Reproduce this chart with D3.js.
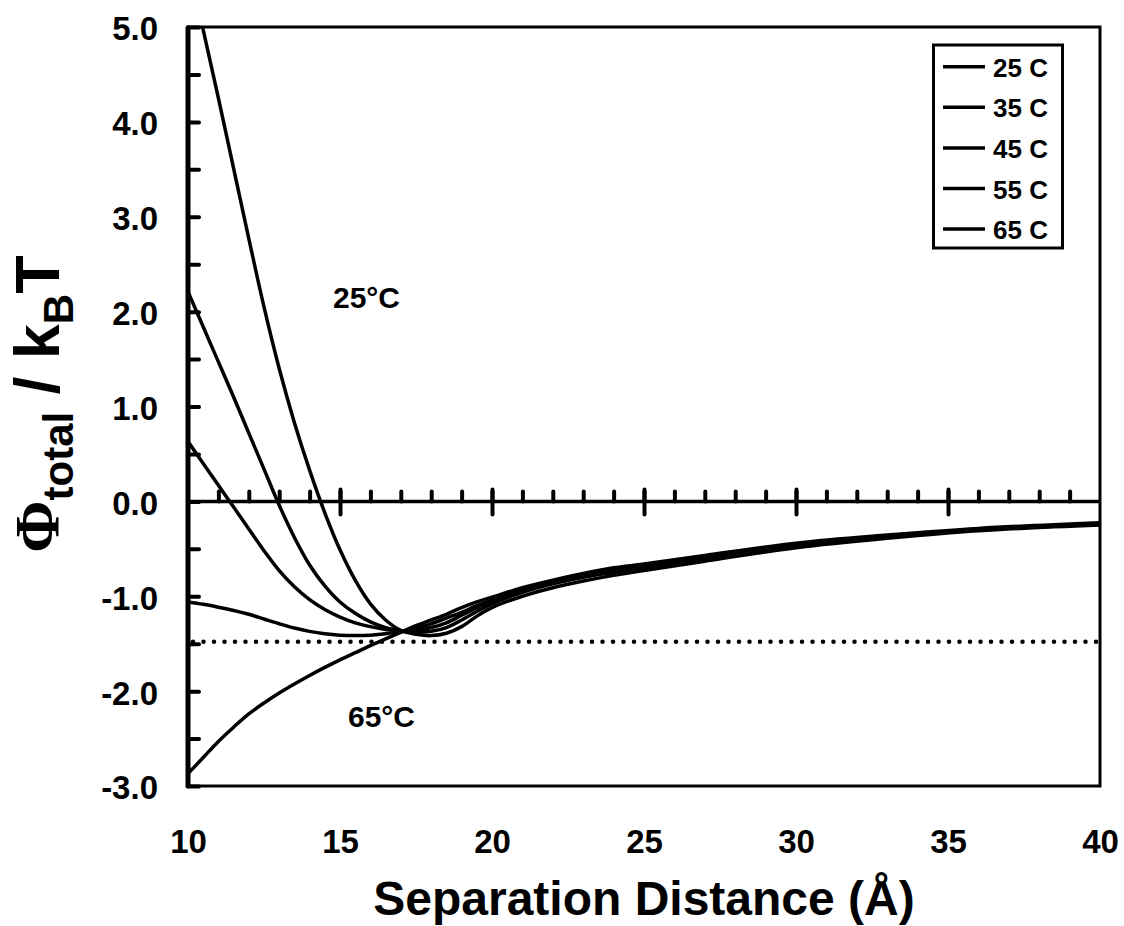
<!DOCTYPE html>
<html>
<head>
<meta charset="utf-8">
<script src="https://cdn.jsdelivr.net/npm/d3@7"></script>
<style>
  body { margin: 0; background: #fff; }
  text { font-family: "Liberation Sans", Arial, sans-serif; font-weight: bold; fill: #000; }
</style>
</head>
<body>
<div id="chart"></div>
<script>
// Separation distance (Angstrom) at which every curve is sampled
var distance = [10, 10.5, 11, 11.5, 12, 12.5, 13, 13.5, 14, 14.5, 15, 15.5, 16, 16.5, 17,
                17.5, 18, 18.5, 19, 19.5, 20, 21, 22, 23, 24, 25, 27, 30, 33, 36, 40];

// Phi_total / kBT for each temperature
var t25 = [5.68, 4.97, 4.25, 3.51, 2.77, 2.05, 1.40, 0.83, 0.33, -0.12, -0.51, -0.83, -1.08, -1.25, -1.36,
           -1.40, -1.415, -1.39, -1.32, -1.21, -1.12, -1.00, -0.91, -0.84, -0.78, -0.73, -0.63, -0.49, -0.39, -0.31, -0.25];
var t35 = [2.21, 1.84, 1.47, 1.10, 0.72, 0.34, -0.04, -0.38, -0.67, -0.89, -1.06, -1.18, -1.27, -1.33, -1.365,
           -1.38, -1.37, -1.33, -1.25, -1.16, -1.08, -0.96, -0.87, -0.80, -0.75, -0.71, -0.61, -0.48, -0.38, -0.30, -0.245];
var t45 = [0.63, 0.40, 0.17, -0.06, -0.29, -0.52, -0.73, -0.90, -1.035, -1.14, -1.22, -1.28, -1.32, -1.35, -1.37,
           -1.36, -1.33, -1.28, -1.20, -1.12, -1.05, -0.94, -0.85, -0.79, -0.73, -0.69, -0.60, -0.47, -0.37, -0.30, -0.24];
var t55 = [-1.06, -1.085, -1.115, -1.15, -1.19, -1.24, -1.29, -1.335, -1.37, -1.395, -1.41, -1.415, -1.41, -1.395, -1.37,
           -1.34, -1.29, -1.23, -1.17, -1.10, -1.04, -0.93, -0.85, -0.78, -0.72, -0.68, -0.59, -0.46, -0.365, -0.295, -0.235];
var t65 = [-2.87, -2.70, -2.53, -2.38, -2.24, -2.125, -2.02, -1.925, -1.835, -1.75, -1.67, -1.595, -1.52, -1.45, -1.38,
           -1.31, -1.25, -1.19, -1.12, -1.06, -1.01, -0.91, -0.83, -0.76, -0.70, -0.66, -0.57, -0.44, -0.355, -0.285, -0.225];

var seriesNames = ["25 C", "35 C", "45 C", "55 C", "65 C"];
var seriesValues = [t25, t35, t45, t55, t65];

// dotted reference level
var refLevel = -1.48;

var xTicks = [10, 15, 20, 25, 30, 35, 40];
var yTicks = [-3, -2, -1, 0, 1, 2, 3, 4, 5];

var w = 1124;
var h = 926;

var x = d3.scaleLinear().domain([10, 40]).range([188, 1100]);
var y = d3.scaleLinear().domain([-3, 5]).range([786, 27]);

var svg = d3.select("#chart")
    .append("svg")
    .attr("width", w)
    .attr("height", h);

svg.append("clipPath")
    .attr("id", "plotclip")
    .append("rect")
    .attr("x", x(10))
    .attr("y", y(5))
    .attr("width", x(40) - x(10))
    .attr("height", y(-3) - y(5));

// plot area border
svg.append("rect")
    .attr("x", x(10))
    .attr("y", y(5))
    .attr("width", x(40) - x(10))
    .attr("height", y(-3) - y(5))
    .attr("fill", "none")
    .attr("stroke", "#000")
    .attr("stroke-width", 3);

// y ticks point into the plot (major every 1, minor every 0.5)
var yTickG = svg.append("g")
    .attr("transform", "translate(" + x(10) + ",0)")
    .call(d3.axisRight(y).tickValues(d3.range(-3, 5.01, 0.5)).tickSize(11).tickFormat(""));
yTickG.select(".domain").remove();

// y tick labels
var yLab = svg.append("g")
    .attr("transform", "translate(" + x(10) + ",0)")
    .call(d3.axisLeft(y).tickValues(yTicks).tickSize(0).tickPadding(30)
        .tickFormat(function(d) { return d.toFixed(1); }));
yLab.select(".domain").remove();
yLab.selectAll("text")
    .attr("dy", "0.39em")
    .style("font-size", "33px");

// left axis line
svg.append("line")
    .attr("x1", x(10)).attr("x2", x(10))
    .attr("y1", y(5)).attr("y2", y(-3) + 1.5)
    .attr("stroke", "#000")
    .attr("stroke-width", 5);

// zero line with minor ticks above and major ticks crossing
var zeroMinor = svg.append("g")
    .attr("transform", "translate(0," + y(0) + ")")
    .call(d3.axisTop(x).tickValues(d3.range(11, 40, 1)).tickSize(10).tickFormat(""));
zeroMinor.select(".domain").remove();
var zeroMajUp = svg.append("g")
    .attr("transform", "translate(0," + y(0) + ")")
    .call(d3.axisTop(x).tickValues([15, 20, 25, 30, 35]).tickSize(12).tickFormat(""));
zeroMajUp.select(".domain").remove();
var zeroMajDown = svg.append("g")
    .attr("transform", "translate(0," + y(0) + ")")
    .call(d3.axisBottom(x).tickValues([15, 20, 25, 30, 35]).tickSize(13).tickFormat(""));
zeroMajDown.select(".domain").remove();
svg.selectAll(".tick line")
    .attr("stroke-width", 4)
    .attr("stroke-linecap", "round");

svg.append("line")
    .attr("x1", x(10)).attr("x2", x(40))
    .attr("y1", y(0)).attr("y2", y(0))
    .attr("stroke", "#000")
    .attr("stroke-width", 3.5);

// x tick labels under the plot
var xLab = svg.append("g")
    .attr("transform", "translate(0," + y(-3) + ")")
    .call(d3.axisBottom(x).tickValues(xTicks).tickSize(0).tickFormat(d3.format("d")));
xLab.select(".domain").remove();
xLab.selectAll("text")
    .attr("dy", null)
    .attr("y", 67)
    .style("font-size", "33px");

// dotted horizontal line
svg.append("line")
    .attr("x1", x(10) + 5).attr("x2", x(40))
    .attr("y1", y(refLevel)).attr("y2", y(refLevel))
    .attr("stroke", "#000")
    .attr("stroke-width", 4.5)
    .attr("stroke-linecap", "round")
    .attr("stroke-dasharray", "0,10.5");

// curves
var line = d3.line()
    .x(function(d) { return x(d[0]); })
    .y(function(d) { return y(d[1]); })
    .curve(d3.curveCatmullRom.alpha(0.5));

svg.append("g")
    .attr("clip-path", "url(#plotclip)")
    .selectAll("path")
    .data(seriesValues)
    .enter()
    .append("path")
    .attr("d", function(vals) {
        return line(distance.map(function(d, i) { return [d, vals[i]]; }));
    })
    .attr("fill", "none")
    .attr("stroke", "#000")
    .attr("stroke-width", 3.5);

// annotations
svg.append("text").attr("x", 333).attr("y", 308).style("font-size", "30px").text("25°C");
svg.append("text").attr("x", 348).attr("y", 727).style("font-size", "30px").text("65°C");

// legend
var legend = svg.append("g");
legend.append("rect")
    .attr("x", 933.5).attr("y", 45)
    .attr("width", 129).attr("height", 203)
    .attr("fill", "#fff")
    .attr("stroke", "#000")
    .attr("stroke-width", 3);
var rows = legend.selectAll("g.row")
    .data(seriesNames)
    .enter()
    .append("g")
    .attr("class", "row")
    .attr("transform", function(d, i) { return "translate(0," + (66.7 + i * 40.6) + ")"; });
rows.append("line")
    .attr("x1", 943).attr("x2", 985)
    .attr("stroke", "#000")
    .attr("stroke-width", 3.5);
rows.append("text")
    .attr("x", 993).attr("y", 10)
    .style("font-size", "26px")
    .text(function(d) { return d; });

// axis titles
svg.append("text")
    .attr("x", (x(10) + x(40)) / 2)
    .attr("y", 915)
    .attr("text-anchor", "middle")
    .style("font-size", "48px")
    .text("Separation Distance (Å)");

var yTitle = svg.append("text")
    .attr("transform", "translate(59,404) rotate(-90)")
    .attr("text-anchor", "middle")
    .style("font-size", "63px");
yTitle.append("tspan")
    .style("font-family", "'Liberation Serif', 'Times New Roman', serif")
    .text("Φ");
yTitle.append("tspan").attr("dy", 14).style("font-size", "42px").text("total");
yTitle.append("tspan").attr("dy", -14).text(" / k");
yTitle.append("tspan").attr("dy", 14).style("font-size", "42px").text("B");
yTitle.append("tspan").attr("dy", -14).text("T");
</script>
</body>
</html>
